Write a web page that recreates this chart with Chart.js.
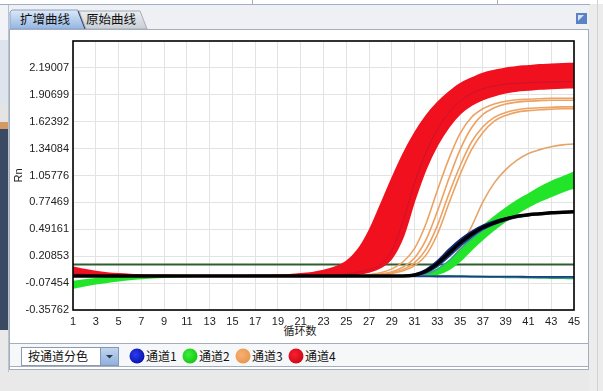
<!DOCTYPE html>
<html lang="zh">
<head>
  <meta charset="UTF-8">
  <title>扩增曲线</title>
  <style>
    body {
      margin: 0;
      width: 603px;
      height: 391px;
      background: #e9e9e9;
      position: relative;
      overflow: hidden;
    }
    #chrome {
      position: absolute;
      left: 0;
      top: 0;
    }
    #chart {
      position: absolute;
      left: 10px;
      top: 30px;
    }
    .cjk {
      font-family: 'Noto Sans CJK SC', sans-serif;
    }
  </style>
  <script src="https://cdn.jsdelivr.net/npm/chart.js"></script>
</head>
<body>
  <svg id="chrome" width="603" height="391" xmlns="http://www.w3.org/2000/svg">
    <defs>
      <linearGradient id="tabOn" x1="0" y1="0" x2="0" y2="1">
        <stop offset="0" stop-color="#dce8f7"/>
        <stop offset="1" stop-color="#93b6e3"/>
      </linearGradient>
      <linearGradient id="tabOff" x1="0" y1="0" x2="0" y2="1">
        <stop offset="0" stop-color="#eceef1"/>
        <stop offset="1" stop-color="#c9ced6"/>
      </linearGradient>
      <linearGradient id="btn" x1="0" y1="0" x2="0" y2="1">
        <stop offset="0" stop-color="#c4d6ee"/>
        <stop offset="1" stop-color="#8eafdc"/>
      </linearGradient>
      <radialGradient id="dotBlue" cx="0.4" cy="0.4" r="0.6">
        <stop offset="0" stop-color="#2a3cf0"/>
        <stop offset="1" stop-color="#0a14b0"/>
      </radialGradient>
      <radialGradient id="dotGreen" cx="0.4" cy="0.4" r="0.6">
        <stop offset="0" stop-color="#3cf03c"/>
        <stop offset="1" stop-color="#18c818"/>
      </radialGradient>
      <radialGradient id="dotOrange" cx="0.4" cy="0.4" r="0.6">
        <stop offset="0" stop-color="#f8b070"/>
        <stop offset="1" stop-color="#e89850"/>
      </radialGradient>
      <radialGradient id="dotRed" cx="0.4" cy="0.4" r="0.6">
        <stop offset="0" stop-color="#f82030"/>
        <stop offset="1" stop-color="#d00818"/>
      </radialGradient>
    </defs>

    <!-- window pieces around the panel -->
    <rect x="0" y="0" width="603" height="391" fill="#e9e9e9"/>
    <rect x="0" y="0" width="603" height="4" fill="#ffffff"/>
    <line x1="0" y1="4.5" x2="590" y2="4.5" stroke="#9fb0c6"/>
    <line x1="252.5" y1="0" x2="252.5" y2="4" stroke="#9fb0c6"/>
    <line x1="497.5" y1="0" x2="497.5" y2="4" stroke="#9fb0c6"/>
    <rect x="9" y="5" width="580" height="24" fill="#eef0f3"/>

    <rect x="0" y="5" width="8" height="35" fill="#f1f3f6"/>
    <rect x="0" y="40" width="8" height="63" fill="#dde4ee"/>
    <rect x="0" y="103" width="8" height="19" fill="#e4e4e4"/>
    <rect x="0" y="122" width="8" height="7" fill="#d49a66"/>
    <rect x="0" y="129" width="8" height="201" fill="#3b4a63"/>
    <line x1="8.5" y1="5" x2="8.5" y2="372" stroke="#b8c2d0"/>

    <rect x="589" y="5" width="14" height="386" fill="#ececec"/>
    <line x1="597.5" y1="0" x2="597.5" y2="391" stroke="#d2d2d2"/>

    <!-- tabs -->
    <polygon points="10,29 10,12 12,10 78,10 85,29" fill="url(#tabOn)" stroke="#8aa2c4"/>
    <polygon points="79,11 140,11 147,29 86,29" fill="url(#tabOff)" stroke="#a2acba"/>
    <line x1="78" y1="11" x2="85" y2="29" stroke="#3a4658"/>
    <text x="20" y="24" class="cjk" font-size="12.5" fill="#111">扩增曲线</text>
    <text x="86" y="24" class="cjk" font-size="12.5" fill="#111">原始曲线</text>

    <rect x="576" y="13" width="11" height="11" fill="#5b82c4"/>
    <polygon points="578,15 584,15 578,21" fill="#d8e4f6"/>

    <!-- panel -->
    <rect x="9.5" y="29.5" width="579" height="340" fill="#ffffff" stroke="#a3adbb"/>
    <text x="300" y="335" class="cjk" font-size="11" fill="#222" text-anchor="middle">循环数</text>

    <!-- bottom bar with colour mode and legend -->
    <rect x="9.5" y="343.5" width="579" height="23" fill="#f6f7f9" stroke="#a3adbb"/>
    <rect x="21.5" y="347.5" width="79" height="18" fill="#ffffff" stroke="#8c9bb0"/>
    <rect x="100.5" y="347.5" width="18" height="18" fill="url(#btn)" stroke="#7f97bb"/>
    <polygon points="106,355 113,355 109.5,358.5" fill="#2c3a55"/>
    <text x="28" y="361" class="cjk" font-size="12" fill="#111">按通道分色</text>

    <circle cx="137" cy="356" r="7.5" fill="url(#dotBlue)"/>
    <text x="146" y="361" class="cjk" font-size="12" fill="#111">通道1</text>
    <circle cx="190" cy="356" r="7.5" fill="url(#dotGreen)"/>
    <text x="199" y="361" class="cjk" font-size="12" fill="#111">通道2</text>
    <circle cx="243" cy="356" r="7.5" fill="url(#dotOrange)"/>
    <text x="252" y="361" class="cjk" font-size="12" fill="#111">通道3</text>
    <circle cx="296" cy="356" r="7.5" fill="url(#dotRed)"/>
    <text x="305" y="361" class="cjk" font-size="12" fill="#111">通道4</text>
  </svg>

  <canvas id="chart" width="578" height="312"></canvas>

  <script>
    const cycles = [
      1, 2, 3, 4, 5, 6, 7, 8, 9, 10,
      11, 12, 13, 14, 15, 16, 17, 18, 19, 20,
      21, 22, 23, 24, 25, 26, 27, 28, 29, 30,
      31, 32, 33, 34, 35, 36, 37, 38, 39, 40,
      41, 42, 43, 44, 45
    ];
    const xTicks = [1, 3, 5, 7, 9, 11, 13, 15, 17, 19, 21, 23, 25, 27, 29, 31, 33, 35, 37, 39, 41, 43, 45];
    const yTickValues = [-0.35762, -0.07454, 0.20853, 0.49161, 0.77469, 1.05776, 1.34084, 1.62392, 1.90699, 2.19007];
    const yTickLabels = ['-0.35762', '-0.07454', '0.20853', '0.49161', '0.77469', '1.05776', '1.34084', '1.62392', '1.90699', '2.19007'];
    const yMin = -0.35762;
    const yMax = 2.47315;
    const threshold = 0.121;

    // channel 4 (red): edges of the band plus one darker curve inside
    const ch4Early = [
      0.09, 0.065, 0.045, 0.03, 0.02, 0.013, 0.009, 0.006, 0.005, 0.004,
      0.004, 0.004, 0.004, 0.004, 0.004, 0.004, 0.005, 0.006, 0.008, 0.012,
      0.02, 0.033, 0.055, 0.09, 0.15, 0.27, 0.47, 0.74, 1.02, 1.28,
      1.50, 1.68, 1.82, 1.93, 2.02, 2.08, 2.13, 2.16, 2.185, 2.20,
      2.21, 2.22, 2.225, 2.23, 2.235
    ];
    const ch4Dark = [
      0.03, 0.02, 0.012, 0.007, 0.004, 0.002, 0, 0, 0, 0,
      0, 0, 0, 0, 0, 0, 0, 0, 0, 0.002,
      0.004, 0.006, 0.008, 0.012, 0.02, 0.04, 0.07, 0.12, 0.27, 0.58,
      0.98, 1.30, 1.54, 1.72, 1.84, 1.92, 1.97, 2.0, 2.02, 2.03,
      2.035, 2.04, 2.04, 2.045, 2.045
    ];
    const ch4Late = [
      0.01, 0.006, 0.004, 0.002, 0.001, 0, 0, 0, 0, 0,
      0, 0, 0, 0, 0, 0, 0, 0, 0, 0,
      0, 0, 0.002, 0.005, 0.01, 0.02, 0.045, 0.09, 0.19, 0.42,
      0.80, 1.13, 1.38, 1.57, 1.71, 1.80, 1.86, 1.90, 1.93, 1.95,
      1.96, 1.97, 1.975, 1.98, 1.985
    ];

    // channel 3 (orange)
    const ch3A = [
      0, 0, 0, 0, 0, 0, 0, 0, 0, 0,
      0, 0, 0, 0, 0, 0, 0, 0, 0, 0,
      0, 0, 0, 0, 0, 0, 0.015, 0.035, 0.075, 0.15,
      0.29, 0.55, 0.90, 1.23, 1.50, 1.67, 1.76, 1.81, 1.84, 1.855,
      1.86, 1.865, 1.87, 1.87, 1.87
    ];
    const ch3B = [
      0, 0, 0, 0, 0, 0, 0, 0, 0, 0,
      0, 0, 0, 0, 0, 0, 0, 0, 0, 0,
      0, 0, 0, 0, 0, 0, 0, 0.02, 0.045, 0.095,
      0.19, 0.38, 0.68, 1.02, 1.33, 1.56, 1.70, 1.77, 1.81, 1.83,
      1.84, 1.845, 1.85, 1.85, 1.85
    ];
    const ch3C = [
      0, 0, 0, 0, 0, 0, 0, 0, 0, 0,
      0, 0, 0, 0, 0, 0, 0, 0, 0, 0,
      0, 0, 0, 0, 0, 0, 0, 0.015, 0.035, 0.07,
      0.14, 0.28, 0.53, 0.86, 1.16, 1.41, 1.57, 1.67, 1.72, 1.75,
      1.765, 1.77, 1.775, 1.78, 1.78
    ];
    const ch3D = [
      0, 0, 0, 0, 0, 0, 0, 0, 0, 0,
      0, 0, 0, 0, 0, 0, 0, 0, 0, 0,
      0, 0, 0, 0, 0, 0, 0, 0, 0.025, 0.055,
      0.11, 0.22, 0.44, 0.76, 1.07, 1.33, 1.51, 1.63, 1.69, 1.725,
      1.74, 1.75, 1.755, 1.76, 1.76
    ];
    const ch3E = [
      0, 0, 0, 0, 0, 0, 0, 0, 0, 0,
      0, 0, 0, 0, 0, 0, 0, 0, 0, 0,
      0, 0, 0, 0, 0, 0, 0, 0, 0, 0,
      0.01, 0.025, 0.06, 0.14, 0.30, 0.52, 0.78, 0.98, 1.12, 1.22,
      1.29, 1.33, 1.36, 1.38, 1.39
    ];

    // channel 2 (green)
    const ch2Up = [
      -0.06, -0.045, -0.032, -0.022, -0.014, -0.008, -0.004, -0.002, 0, 0,
      0, 0, 0, 0, 0, 0, 0, 0, 0, 0,
      0, 0, 0, 0, 0, 0, 0, 0, 0, 0,
      0.005, 0.02, 0.07, 0.15, 0.27, 0.40, 0.52, 0.62, 0.71, 0.79,
      0.86, 0.93, 0.99, 1.04, 1.09
    ];
    const ch2Low = [
      -0.125, -0.10, -0.08, -0.062, -0.047, -0.034, -0.024, -0.016, -0.01, -0.006,
      -0.003, -0.001, 0, 0, 0, 0, 0, 0, 0, 0,
      0, 0, 0, 0, 0, 0, 0, 0, 0, 0,
      0, 0, 0.02, 0.07, 0.16, 0.28, 0.39, 0.49, 0.58, 0.66,
      0.73, 0.79, 0.84, 0.89, 0.93
    ];
    const ch2Flat = [
      0, 0, 0, 0, 0, 0, 0, 0, 0, 0,
      0, 0, 0, 0, 0, 0, 0, 0, 0, 0,
      0, 0, 0, 0, 0, 0, 0, 0, 0, 0,
      0, 0, 0, 0, 0, -0.005, -0.008, -0.01, -0.012, -0.014,
      -0.016, -0.018, -0.02, -0.022, -0.024
    ];

    // channel 1 (blue), a teal one and the black curve
    const ch1Up = [
      0, 0, 0, 0, 0, 0, 0, 0, 0, 0,
      0, 0, 0, 0, 0, 0, 0, 0, 0, 0,
      0, 0, 0, 0, 0, 0, 0, 0, 0, 0.004,
      0.02, 0.07, 0.16, 0.28, 0.385, 0.47, 0.535, 0.58, 0.61, 0.635,
      0.65, 0.66, 0.668, 0.673, 0.678
    ];
    const ch1Low = [
      0, 0, 0, 0, 0, 0, 0, 0, 0, 0,
      0, 0, 0, 0, 0, 0, 0, 0, 0, 0,
      0, 0, 0, 0, 0, 0, 0, 0, 0, 0,
      0.006, 0.035, 0.10, 0.20, 0.31, 0.41, 0.49, 0.545, 0.585, 0.615,
      0.635, 0.648, 0.658, 0.665, 0.67
    ];
    const ch1Teal = [
      0, 0, 0, 0, 0, 0, 0, 0, 0, 0,
      0, 0, 0, 0, 0, 0, 0, 0, 0, 0,
      0, 0, 0, 0, 0, 0, 0, 0, 0, 0,
      0.004, 0.02, 0.07, 0.16, 0.28, 0.39, 0.48, 0.54, 0.585, 0.62,
      0.64, 0.655, 0.665, 0.67, 0.675
    ];
    const ch1Flat = [
      0, 0, 0, 0, 0, 0, 0, 0, 0, 0,
      0, 0, 0, 0, 0, 0, 0, 0, 0, 0,
      0, 0, 0, 0, 0, 0, 0, 0, 0, 0,
      -0.003, -0.004, -0.005, -0.005, -0.006, -0.006, -0.006, -0.007, -0.007, -0.007,
      -0.008, -0.008, -0.008, -0.008, -0.008
    ];
    const blackCurve = [
      0, 0, 0, 0, 0, 0, 0, 0, 0, 0,
      0, 0, 0, 0, 0, 0, 0, 0, 0, 0,
      0, 0, 0, 0, 0, 0, 0, 0, 0, 0,
      0.01, 0.05, 0.13, 0.24, 0.35, 0.44, 0.51, 0.56, 0.60, 0.63,
      0.645, 0.655, 0.665, 0.67, 0.675
    ];

    const RED = '#f0101e';
    const ORANGE = '#eda262';
    const GREEN = '#22e52a';
    const BLUE = '#12287a';

    function pts(values) {
      return values.map((v, i) => ({ x: cycles[i], y: v }));
    }

    function curve(values, color, width, extra) {
      return Object.assign({
        data: pts(values),
        borderColor: color,
        backgroundColor: color,
        borderWidth: width,
        pointRadius: 0,
        fill: false,
        cubicInterpolationMode: 'monotone'
      }, extra || {});
    }

    // first dataset is drawn on top
    const datasets = [
      curve(blackCurve, '#000000', 3.5),
      curve(ch1Flat, '#1a3c8c', 1.8),
      curve(ch1Up, BLUE, 1.5),
      curve(ch1Low, '#1c3f86', 1.5, { fill: '-1', backgroundColor: BLUE }),
      curve(ch1Teal, '#3aa0a0', 1.2),
      curve(ch2Flat, '#2aa860', 2),
      curve(ch2Up, GREEN, 2),
      curve(ch2Low, GREEN, 2, { fill: '-1' }),
      curve(ch3A, ORANGE, 1.6),
      curve(ch3B, ORANGE, 1.6),
      curve(ch3C, ORANGE, 1.6),
      curve(ch3D, ORANGE, 1.6),
      curve(ch3E, '#e4a46a', 1.6),
      curve(ch4Dark, '#c8142e', 1),
      curve(ch4Early, RED, 2),
      curve(ch4Late, RED, 2, { fill: '-1' }),
      curve(cycles.map(() => threshold), '#2e5e2e', 2, { cubicInterpolationMode: 'default' })
    ];

    const frame = {
      id: 'frame',
      afterDraw(chart) {
        const { ctx, chartArea: a } = chart;
        ctx.save();
        ctx.strokeStyle = '#000';
        ctx.lineWidth = 1.6;
        ctx.strokeRect(a.left, a.top, a.right - a.left, a.bottom - a.top);
        ctx.restore();
      }
    };

    Chart.defaults.font.family = "Arial, 'Liberation Sans', sans-serif";
    Chart.defaults.font.size = 11;
    Chart.defaults.color = '#222';

    new Chart(document.getElementById('chart'), {
      type: 'line',
      data: { datasets: datasets },
      options: {
        responsive: false,
        animation: false,
        layout: { padding: { left: 0, top: 11, right: 14, bottom: 0 } },
        plugins: {
          legend: { display: false },
          tooltip: { enabled: false }
        },
        scales: {
          x: {
            type: 'linear',
            min: 1,
            max: 45,
            afterBuildTicks: s => { s.ticks = xTicks.map(v => ({ value: v })); },
            afterFit: s => { s.height = 32; },
            ticks: { autoSkip: false, maxRotation: 0, padding: 5 },
            grid: { color: '#e3e3e3', drawTicks: false },
            border: { display: false }
          },
          y: {
            type: 'linear',
            min: yMin,
            max: yMax,
            afterBuildTicks: s => { s.ticks = yTickValues.map(v => ({ value: v })); },
            afterFit: s => { s.width = 63; },
            ticks: { padding: 4, callback: (v, i) => yTickLabels[i] },
            grid: { color: '#e3e3e3', drawTicks: false },
            border: { display: false },
            title: { display: true, text: 'Rn', padding: { top: 2, bottom: 0 } }
          }
        }
      },
      plugins: [frame]
    });
  </script>
</body>
</html>
